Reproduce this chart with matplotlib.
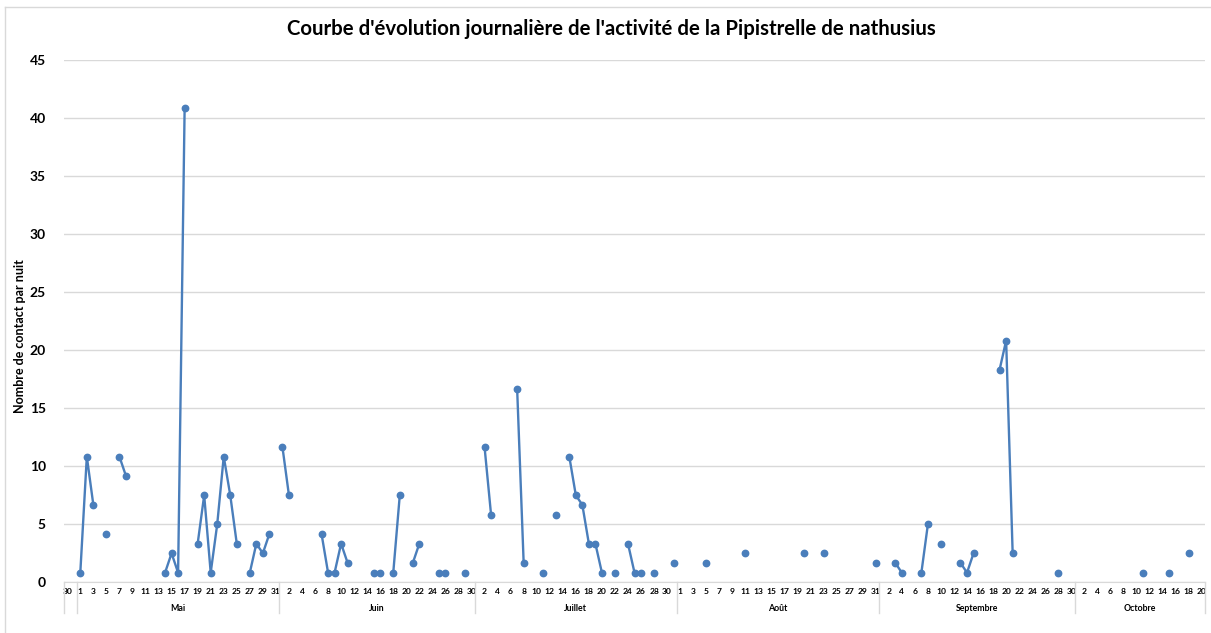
import matplotlib.pyplot as plt
import numpy as np

plt.rcParams['font.family'] = ['Lato', 'DejaVu Sans']

# Axe des catégories : un emplacement par nuit, regroupé par mois
mois = ['', 'Mai', 'Juin', 'Juillet', 'Août', 'Septembre', 'Octobre']
premier_jour = [30, 1, 1, 1, 1, 1, 1]
nb_jours = [2, 31, 30, 31, 31, 30, 20]

# Nuits avec contacts (jour du mois, nombre de contacts par nuit)
mai_jours = [1, 2, 3, 5, 7, 8, 14, 15, 16, 17, 19, 20, 21, 22, 23, 24, 25, 27, 28, 29, 30]
mai_valeurs = [0.83, 10.83, 6.67, 4.17, 10.83, 9.17, 0.83, 2.5, 0.83, 40.83, 3.33, 7.5,
               0.83, 5.0, 10.83, 7.5, 3.33, 0.83, 3.33, 2.5, 4.17]
juin_jours = [1, 2, 7, 8, 9, 10, 11, 15, 16, 18, 19, 21, 22, 25, 26, 29]
juin_valeurs = [11.67, 7.5, 4.17, 0.83, 0.83, 3.33, 1.67, 0.83, 0.83, 0.83, 7.5, 1.67,
                3.33, 0.83, 0.83, 0.83]
juillet_jours = [2, 3, 7, 8, 11, 13, 15, 16, 17, 18, 19, 20, 22, 24, 25, 26, 28, 31]
juillet_valeurs = [11.67, 5.83, 16.67, 1.67, 0.83, 5.83, 10.83, 7.5, 6.67, 3.33, 3.33,
                   0.83, 0.83, 3.33, 0.83, 0.83, 0.83, 1.67]
aout_jours = [5, 11, 20, 23, 31]
aout_valeurs = [1.67, 2.5, 2.5, 2.5, 1.67]
septembre_jours = [3, 4, 7, 8, 10, 13, 14, 15, 19, 20, 21, 28]
septembre_valeurs = [1.67, 0.83, 0.83, 5.0, 3.33, 1.67, 0.83, 2.5, 18.33, 20.83, 2.5, 0.83]
octobre_jours = [11, 15, 18]
octobre_valeurs = [0.83, 0.83, 2.5]

releves = {
    'Mai': (mai_jours, mai_valeurs),
    'Juin': (juin_jours, juin_valeurs),
    'Juillet': (juillet_jours, juillet_valeurs),
    'Août': (aout_jours, aout_valeurs),
    'Septembre': (septembre_jours, septembre_valeurs),
    'Octobre': (octobre_jours, octobre_valeurs),
}

# construction de la série complète (NaN = nuit sans donnée -> trou dans la courbe)
etiquettes = []
debut_mois = []
for m, d0, n in zip(mois, premier_jour, nb_jours):
    debut_mois.append(len(etiquettes))
    etiquettes += [str(d0 + k) for k in range(n)]
n_cat = len(etiquettes)
serie = np.full(n_cat, np.nan)
for m, (jours, vals) in releves.items():
    i0 = debut_mois[mois.index(m)]
    for j, v in zip(jours, vals):
        serie[i0 + j - 1] = v

x = np.arange(n_cat)
bleu = '#4a7ebb'
gris = '#d9d9d9'

fig = plt.figure(figsize=(12.11, 6.33), dpi=100)
ax = fig.add_axes([64 / 1211, 1 - 582.3 / 633, 1141 / 1211, 522.3 / 633])

ax.plot(x, serie, color=bleu, lw=1.7, marker='o', ms=4.6, solid_capstyle='round', zorder=3)

ax.set_xlim(-0.5, n_cat - 0.5)
ax.set_ylim(0, 45)
ax.set_yticks(np.arange(0, 46, 5))
ax.yaxis.grid(True, color=gris, lw=1)
ax.set_axisbelow(True)
for s in ['top', 'right', 'left']:
    ax.spines[s].set_visible(False)
ax.spines['bottom'].set_color(gris)
ax.tick_params(axis='y', length=0, pad=13, labelsize=10)
for t in ax.get_yticklabels():
    t.set_fontweight('bold')

# étiquettes des jours (une sur deux) et des mois
ax.set_xticks(x[::2])
ax.set_xticklabels(etiquettes[::2], fontsize=6.1, fontweight='bold')
ax.tick_params(axis='x', length=0, pad=4)

tr = ax.get_xaxis_transform()
bas = -31 / 522.3
for i0 in debut_mois + [n_cat]:
    ax.plot([i0 - 0.5, i0 - 0.5], [0, bas], color=gris, lw=1, transform=tr, clip_on=False)
for m, i0, n in zip(mois, debut_mois, nb_jours):
    ax.text(i0 + (n - 1) / 2, -26 / 522.3, m, transform=tr, ha='center', va='center',
            fontsize=6.3, fontweight='bold')

fig.text(611 / 1211, 1 - 29 / 633, "Courbe d'évolution journalière de l'activité de la Pipistrelle de nathusius",
         ha='center', va='center', fontsize=14.7, fontweight='bold')
fig.text(20.5 / 1211, 1 - 336 / 633, 'Nombre de contact par nuit', rotation=90,
         ha='center', va='center', fontsize=9, fontweight='bold')

# cadre du graphique
fig.add_artist(plt.Line2D([5 / 1211, 5 / 1211], [0, 1 - 7 / 633], color=gris, lw=1))
fig.add_artist(plt.Line2D([5 / 1211, 1], [1 - 7 / 633, 1 - 7 / 633], color=gris, lw=1))

fig.savefig('out.png', dpi=100, facecolor='white')
